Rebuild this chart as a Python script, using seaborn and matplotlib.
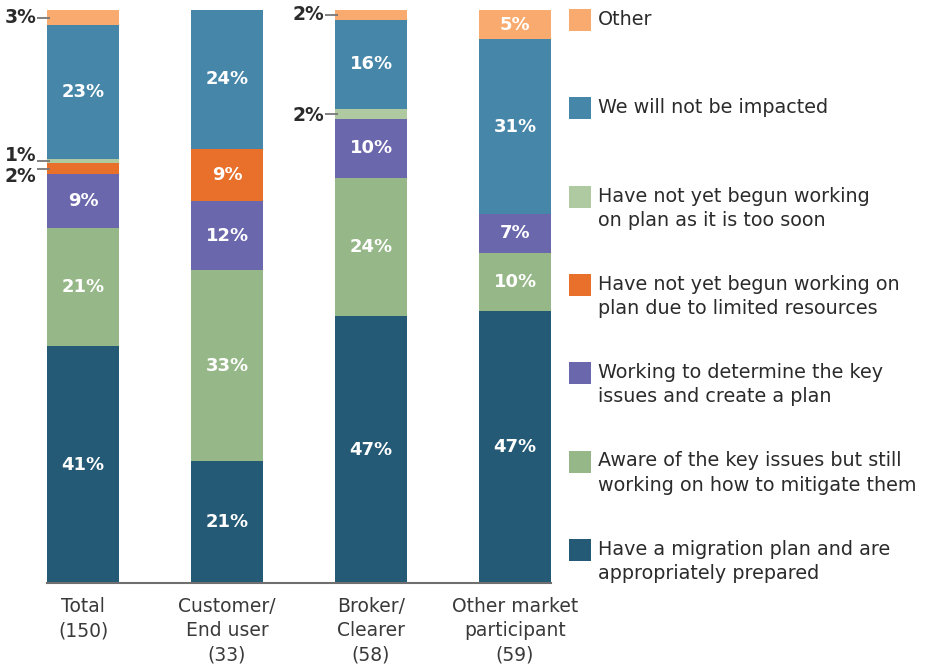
import matplotlib.pyplot as plt
import pandas as pd
import seaborn as sns
from matplotlib.patches import Rectangle

GROUPS = ["Total\n(150)", "Customer/\nEnd user\n(33)", "Broker/\nClearer\n(58)", "Other market\nparticipant\n(59)"]
GROUP_N = [150, 33, 58, 59]

# respondent counts per answer, bottom of stack first
CATEGORIES = [
    "Have a migration plan and are\nappropriately prepared",
    "Aware of the key issues but still\nworking on how to mitigate them",
    "Working to determine the key\nissues and create a plan",
    "Have not yet begun working on\nplan due to limited resources",
    "Have not yet begun working\non plan as it is too soon",
    "We will not be impacted",
    "Other",
]
MIGRATION_PLAN = [62, 7, 27, 28]
AWARE = [31, 11, 14, 6]
WORKING = [14, 4, 6, 4]
LIMITED_RESOURCES = [3, 3, 0, 0]
TOO_SOON = [1, 0, 1, 0]
NOT_IMPACTED = [35, 8, 9, 18]
OTHER = [4, 0, 1, 3]
COUNTS = [MIGRATION_PLAN, AWARE, WORKING, LIMITED_RESOURCES, TOO_SOON, NOT_IMPACTED, OTHER]

COLORS = ["#245A75", "#96B788", "#6B67AD", "#E8702A", "#AFC9A0", "#4686A8", "#F9AB6F"]

# small segments labelled outside the bar: (group index, category index) -> text y offset in points
OUTSIDE = {(0, 6): 0, (0, 4): 4, (0, 3): -6, (2, 6): 0, (2, 4): -1}

FONT = "DejaVu Sans"
TEXT_DARK = "#2b2b2b"

sns.set_theme(style="white")
plt.rcParams["font.family"] = [FONT]

fig = plt.figure(figsize=(9.25, 6.64), dpi=100)
ax = fig.add_axes([47 / 925, 81 / 664, 504 / 925, 573 / 664])

bottom = [0.0] * len(GROUPS)
for cat_idx, (cat, counts, color) in enumerate(zip(CATEGORIES, COUNTS, COLORS)):
    pct = [c / n * 100 for c, n in zip(counts, GROUP_N)]
    df = pd.DataFrame({"group": GROUPS, "pct": pct})
    sns.barplot(data=df, x="group", y="pct", order=GROUPS, bottom=bottom,
                color=color, width=0.5, saturation=1, linewidth=0, ax=ax)
    for g_idx, value in enumerate(pct):
        if value <= 0:
            continue
        mid = bottom[g_idx] + value / 2
        label = f"{round(value)}%"
        if (g_idx, cat_idx) in OUTSIDE:
            left = g_idx - 0.25
            ax.plot([left - 0.07, left + 0.02], [mid, mid], color="#777777", lw=1.3,
                    solid_capstyle="butt", zorder=5, clip_on=False)
            ax.annotate(label, (left - 0.075, mid), xytext=(0, OUTSIDE[(g_idx, cat_idx)]),
                        textcoords="offset points", ha="right", va="center",
                        fontsize=13.5, fontweight="bold", color=TEXT_DARK,
                        annotation_clip=False)
        else:
            ax.text(g_idx, mid, label, ha="center", va="center", fontsize=13,
                    fontweight="bold", color="white")
    bottom = [b + v for b, v in zip(bottom, pct)]

ax.set_xlim(-0.25, 3.25)
ax.set_ylim(0, 100)
ax.set_xlabel("")
ax.set_ylabel("")
ax.set_yticks([])
ax.tick_params(axis="x", length=0, pad=10, labelsize=13.5, labelcolor="#3a3a3a")
for lbl in ax.get_xticklabels():
    lbl.set_linespacing(1.35)
for side in ["top", "right", "left"]:
    ax.spines[side].set_visible(False)
ax.spines["bottom"].set_color("#6f6f6f")
ax.spines["bottom"].set_linewidth(1.5)

# legend on the right, top entry first
W, H = 925, 664
for i, (cat, color) in enumerate(zip(CATEGORIES[::-1], COLORS[::-1])):
    top_px = 9 + i * 88.3
    fig.add_artist(Rectangle((569 / W, 1 - (top_px + 22) / H), 22 / W, 22 / H,
                             transform=fig.transFigure, color=color, lw=0))
    fig.text(598 / W, 1 - (top_px + 1) / H, cat, ha="left", va="top", fontsize=13.8,
             color=TEXT_DARK, linespacing=1.35)

fig.savefig("out.png", dpi=100)
